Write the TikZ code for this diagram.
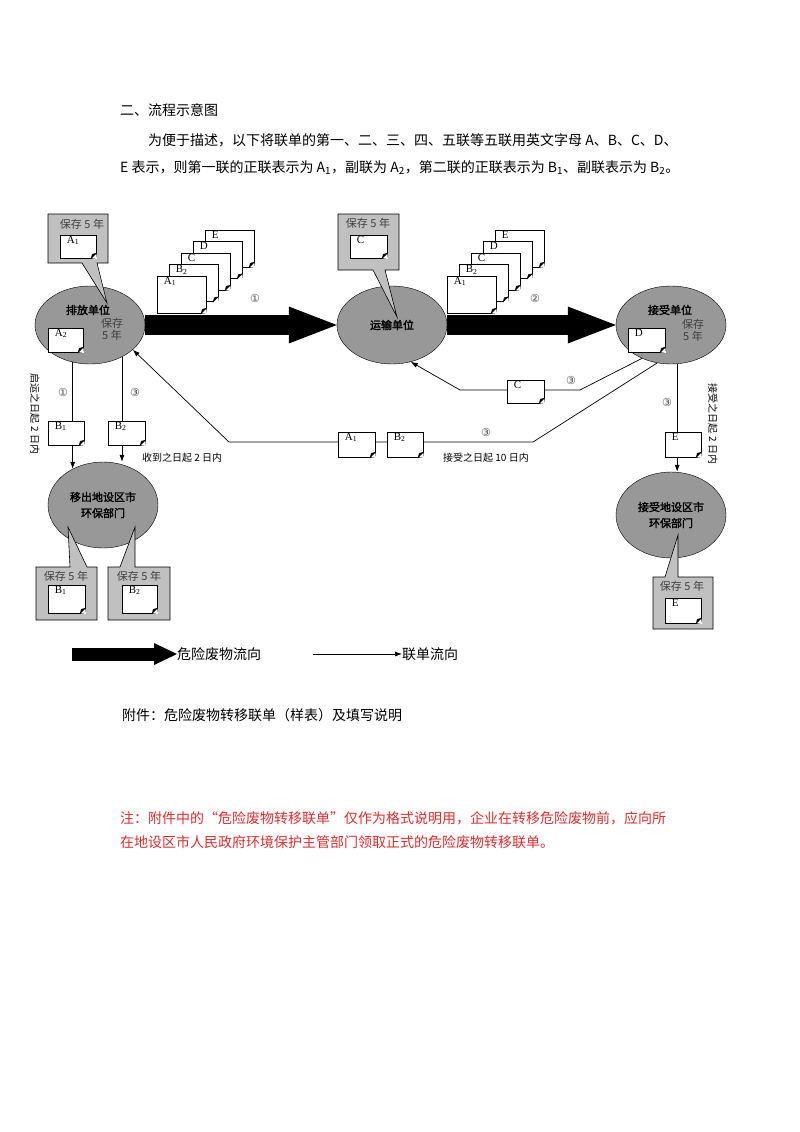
\documentclass[tikz,border=0pt]{standalone}
\usepackage{fontspec}
\setmainfont{Noto Sans CJK SC}[AutoFakeBold=2]
\newfontfamily\latinfont{Liberation Serif}
\newfontfamily\circfont{DejaVu Sans}
\usetikzlibrary{shapes.geometric,arrows.meta,positioning}

\definecolor{unitgray}{RGB}{152,152,152}
\definecolor{notegray}{RGB}{192,192,192}
\definecolor{notered}{RGB}{225,45,45}

\newcommand{\sizept}[2]{\fontsize{#1}{#2}\selectfont}

% a manifest sheet: name, centre, width, height, letter
\newcommand{\docsheet}[5]{%
  \node[docpage, minimum width=#3pt, minimum height=#4pt,
        label={[doclabel]north west:#5}] (#1) at (#2) {};
  \fill[white] ([xshift=-5pt]#1.south east) -- ([xshift=0.6pt,yshift=-0.6pt]#1.south east)
    -- ([yshift=5pt]#1.south east) -- cycle;
  \filldraw[line width=0.5pt] ([xshift=-5pt]#1.south east) -- ([yshift=5pt]#1.south east)
    -- ([xshift=-4pt,yshift=4pt]#1.south east) -- cycle;
}

\tikzset{
  unit/.style={ellipse, draw, fill=unitgray, minimum width=110pt, minimum height=78pt,
    inner sep=0pt, align=center, font=\bfseries\sizept{11}{16}},
  unitname/.style={inner sep=0pt, font=\bfseries\sizept{11}{13}},
  note/.style={draw, fill=notegray, line width=0.6pt},
  keep/.style={inner sep=0pt, text=black!75, font=\sizept{11}{12}},
  docpage/.style={draw, fill=white, inner sep=0pt, line width=0.6pt},
  doclabel/.style={anchor=north west, inner sep=1pt, xshift=6pt, font=\latinfont\sizept{11}{11}},
  small/.style={inner sep=0pt, font=\sizept{10}{12}},
  num/.style={inner sep=0pt, text=black!70, font=\circfont\sizept{11}{11}},
  body/.style={anchor=west, inner sep=0pt, font=\sizept{14}{16}},
  flow/.style={-{Latex[length=7pt,width=5pt]}, line width=0.7pt},
  waste/.style={-{Triangle[length=48pt,width=37pt,line width=0pt]}, line width=20pt},
  wastekey/.style={-{Triangle[length=23pt,width=22pt,line width=0pt]}, line width=13pt}
}

\begin{document}
\begin{tikzpicture}[x=1pt, y=-1pt]
\useasboundingbox (0,0) rectangle (800,1132);

% Heading and intro
\node[body] (head) at (120,110) {二、流程示意图};
\node[body] (intro1) at (148,140) {为便于描述，以下将联单的第一、二、三、四、五联等五联用英文字母 A、B、C、D、};
\node[body] (intro2) at (120,168) {E 表示，则第一联的正联表示为 A\textsubscript{1}，副联为 A\textsubscript{2}，第二联的正联表示为 B\textsubscript{1}、副联表示为 B\textsubscript{2}。};

% Units
\node[unit] (emit) at (90,325) {};
\node[unit] (trans) at (392,325) {运输单位};
\node[unit] (recv) at (671,325) {};
\node[unit, minimum height=86pt] (outenv) at (103,505) {移出地设区市\\环保部门};
\node[unit, minimum height=86pt] (inenv) at (671,515) {接受地设区市\\环保部门};

\node[unitname] (emitname) at (88,310) {排放单位};
\node[unitname] (recvname) at (670,310) {接受单位};
\node[keep, align=center] (emitkeep) at (112,329) {保存\\5 年};
\node[keep, align=center] (recvkeep) at (693,330) {保存\\5 年};

% Keep-5-years notes
\filldraw[note] (48,214) -- (108,214) -- (108,263) -- (97,263) -- (107,303) -- (82,263) -- (48,263) -- cycle;
\filldraw[note] (338,214) -- (399,214) -- (399,270) -- (385,270) -- (397,317) -- (373,270) -- (338,270) -- cycle;
\filldraw[note] (36,567) -- (70,567) -- (68,527) -- (87,567) -- (97,567) -- (97,620) -- (36,620) -- cycle;
\filldraw[note] (108,567) -- (120,567) -- (135,527) -- (135,567) -- (170,567) -- (170,620) -- (108,620) -- cycle;
\filldraw[note] (653,577) -- (665,577) -- (678,535) -- (678,577) -- (713,577) -- (713,629) -- (653,629) -- cycle;
\node[keep] (keepA) at (82,224) {保存 5 年};
\node[keep] (keepC) at (368,223) {保存 5 年};
\node[keep] (keepB1) at (66,576) {保存 5 年};
\node[keep] (keepB2) at (139,576) {保存 5 年};
\node[keep] (keepE) at (682,586) {保存 5 年};

% Waste flow
\draw[waste] (emit.east) -- (trans.west);
\draw[waste] (trans.east) -- (recv.west);

% Manifest flow
\coordinate (lowR) at (533,442);
\coordinate (lowL) at (229,442);
\coordinate (midR) at (580,390);
\coordinate (midL) at (460,390);
\draw[flow] (emit.245) -- (emit.245 |- outenv.130);
\draw[flow] (emit.315) -- (emit.315 |- outenv.north);
\draw[flow] (recv.279) -- (recv.279 |- inenv.north);
\draw[flow] (recv.250) -- (lowR) -- (lowL) -- (emit.330);
\draw[flow] (recv.229) -- (midR) -- (midL) -- (trans.297);

% Sheets
\docsheet{sheetA}{78,246.5}{36}{23}{A\textsubscript{1}}
\docsheet{sheetC}{368.5,246.5}{37}{23}{C}
\docsheet{sheetA2}{65.5,340}{35}{24}{A\textsubscript{2}}
\docsheet{sheetD}{646.5,340}{37}{24}{D}
\docsheet{sendB1}{66,433}{36}{24}{B\textsubscript{1}}
\docsheet{sendB2}{126.5,433}{37}{24}{B\textsubscript{2}}
\docsheet{backA1}{356.5,444.5}{37}{25}{A\textsubscript{1}}
\docsheet{backB2}{405,444.5}{36}{25}{B\textsubscript{2}}
\docsheet{backC}{525.5,391.5}{37}{23}{C}
\docsheet{sendE}{683,444.5}{36}{25}{E}
\docsheet{fileB1}{66.5,599}{37}{28}{B\textsubscript{1}}
\docsheet{fileB2}{139.5,599}{35}{28}{B\textsubscript{2}}
\docsheet{fileE}{683,610.5}{36}{25}{E}

% Sheet stacks
\foreach \lbl [count=\i from 0] in {E,D,C,{B\textsubscript{2}},{A\textsubscript{1}}} {
  \docsheet{load\i}{229.5-12*\i,248.5+11.5*\i}{49}{37}{\lbl}
  \docsheet{haul\i}{519.5-12*\i,248.5+11.5*\i}{49}{37}{\lbl}
}

% Step numbers
\node[num] (stepA) at (255,298) {①};
\node[num] (stepB) at (535,298) {②};
\node[num] (stepC) at (63,392) {①};
\node[num] (stepD) at (135,392) {③};
\node[num] (stepE) at (571,380) {③};
\node[num] (stepF) at (486,432) {③};
\node[num] (stepG) at (667,402) {③};

% Deadlines
\node[small, anchor=west] (gotdays) at (142,458) {收到之日起 2 日内};
\node[small, anchor=west] (acceptdays) at (443,458) {接受之日起 10 日内};
\node[small, rotate=-90] (startdays) at (35,414) {启运之日起 2 日内};
\node[small, rotate=-90] (takedays) at (713,424) {接受之日起 2 日内};

% Legend
\coordinate (keywaste) at (72,654);
\coordinate (keyform) at (313,654);
\node[body] (keywastetext) at (177,654) {危险废物流向};
\node[body] (keyformtext) at (402,654) {联单流向};
\draw[wastekey] (keywaste) -- (keywastetext.west);
\draw[flow] (keyform) -- (keyformtext.west);

% Attachment and notice
\node[body] (attach) at (122,715) {附件：危险废物转移联单（样表）及填写说明};
\node[body, text=notered] (notice1) at (120,818) {注：附件中的“危险废物转移联单”仅作为格式说明用，企业在转移危险废物前，应向所};
\node[body, text=notered] (notice2) at (120,842) {在地设区市人民政府环境保护主管部门领取正式的危险废物转移联单。};
\end{tikzpicture}
\end{document}
